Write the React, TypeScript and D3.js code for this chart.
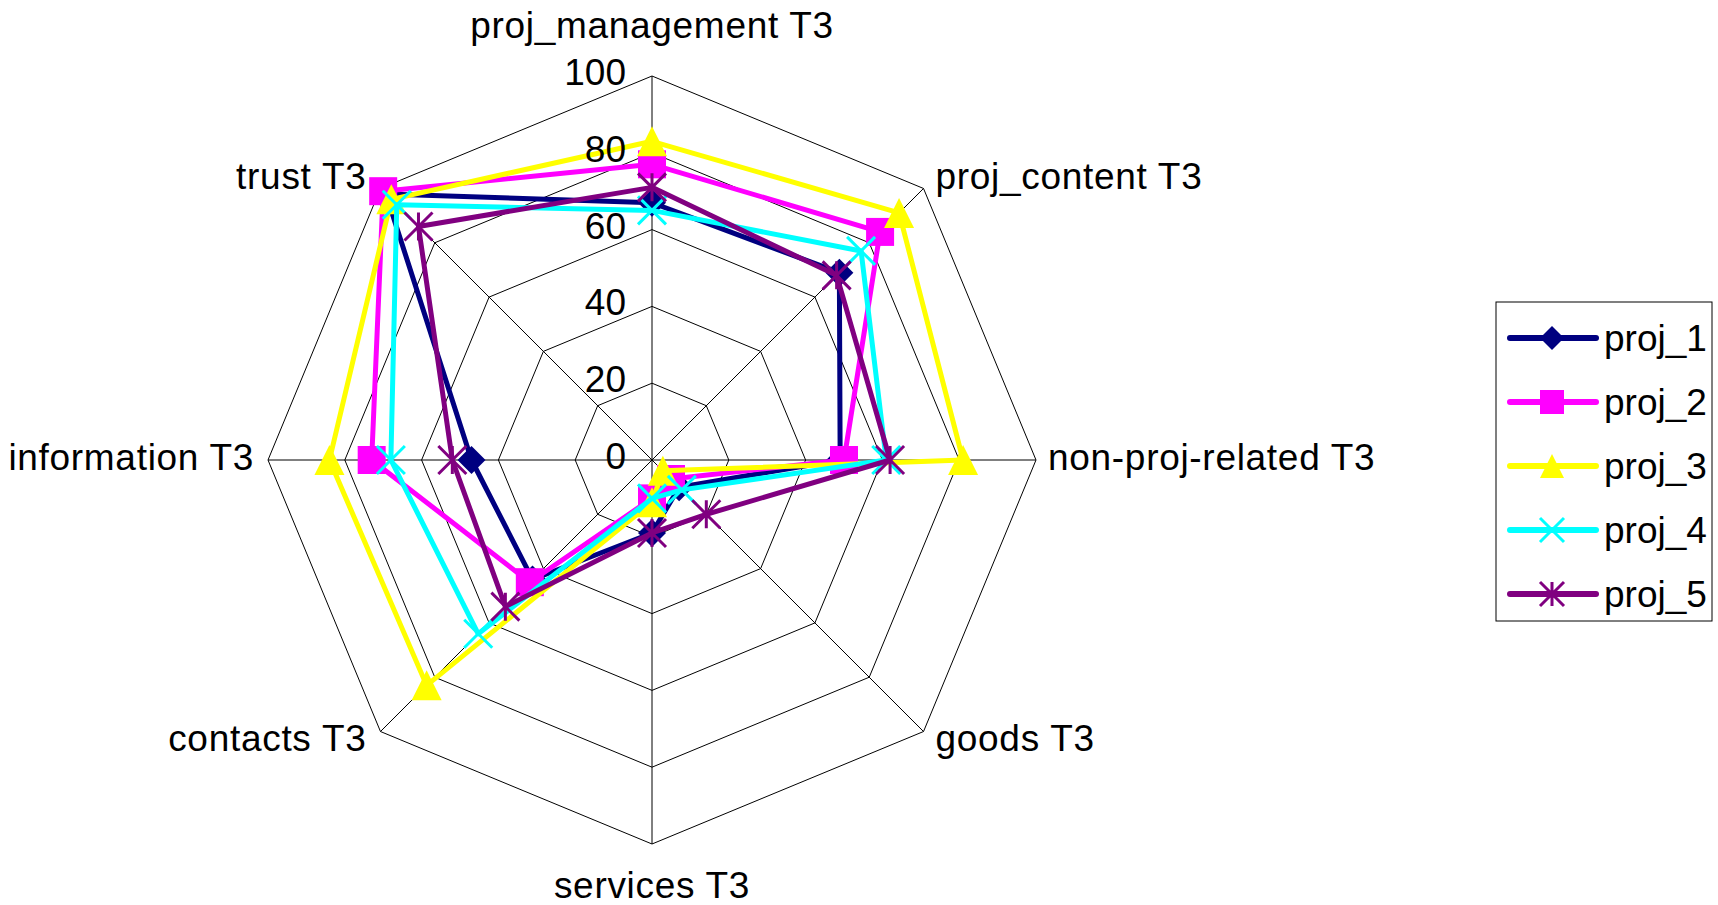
import React, { useEffect, useRef } from 'react';
import * as d3 from 'd3';

// axes clockwise from the top
const axes = [
  'proj_management T3',
  'proj_content T3',
  'non-proj-related T3',
  'goods T3',
  'services T3',
  'contacts T3',
  'information T3',
  'trust T3',
];

const proj1 = [67, 69, 49, 10, 19, 44, 47, 98];
const proj2 = [77, 84, 50, 7, 10, 45, 73, 99];
const proj3 = [83, 91, 81, 4, 11, 83, 84, 96];
const proj4 = [65, 77, 61, 11, 10, 64, 68, 94];
const proj5 = [71, 68, 62, 20, 19, 54, 52, 86];

const seriesNames = ['proj_1', 'proj_2', 'proj_3', 'proj_4', 'proj_5'];
const seriesColors = ['#000080', '#FF00FF', '#FFFF00', '#00FFFF', '#800080'];
const seriesMarkers = ['diamond', 'square', 'triangle', 'cross', 'asterisk'];

const ticks = [0, 20, 40, 60, 80, 100];

const FONT = '"Liberation Sans", Arial, sans-serif';

function markerPath(type: string, s: number): string {
  const h = s / 2;
  switch (type) {
    case 'diamond':
      return `M0,${-h}L${h},0L0,${h}L${-h},0Z`;
    case 'square':
      return `M${-h},${-h}H${h}V${h}H${-h}Z`;
    case 'triangle':
      return `M0,${-h}L${h},${h}H${-h}Z`;
    case 'cross':
      return `M${-h},${-h}L${h},${h}M${h},${-h}L${-h},${h}`;
    default:
      return `M${-h},${-h}L${h},${h}M${h},${-h}L${-h},${h}M0,${-h}V${h}`;
  }
}

const App = () => {
  const svgRef = useRef<SVGSVGElement | null>(null);

  useEffect(() => {
    const width = 1718;
    const height = 905;
    const cx = 652;
    const cy = 460;
    const radius = 384;

    const svg = d3.select(svgRef.current)
      .attr('width', width)
      .attr('height', height)
      .style('font-family', FONT);
    svg.selectAll('*').remove();

    svg.append('rect').attr('width', width).attr('height', height).attr('fill', '#fff');

    const r = d3.scaleLinear().domain([0, 100]).range([0, radius]);
    const angle = d3.scalePoint<number>()
      .domain(d3.range(axes.length + 1))
      .range([0, 2 * Math.PI]);

    const pt = (i: number, v: number): [number, number] => {
      const a = angle(i % axes.length)!;
      return [cx + r(v) * Math.sin(a), cy - r(v) * Math.cos(a)];
    };

    const g = svg.append('g');

    // grid rings
    ticks.slice(1).forEach(t => {
      g.append('path')
        .attr('d', d3.line()(axes.map((_, i) => pt(i, t))) + 'Z')
        .attr('fill', 'none')
        .attr('stroke', '#000')
        .attr('stroke-width', 1);
    });
    // spokes
    axes.forEach((_, i) => {
      const [x, y] = pt(i, 100);
      g.append('line')
        .attr('x1', cx).attr('y1', cy)
        .attr('x2', x).attr('y2', y)
        .attr('stroke', '#000')
        .attr('stroke-width', 1);
    });

    // axis labels
    axes.forEach((name, i) => {
      const a = angle(i)!;
      const [x, y] = pt(i, 100);
      const s = Math.sin(a);
      const c = Math.cos(a);
      let tx = x;
      let ty = y;
      let anchor = 'middle';
      if (Math.abs(s) < 0.01) {
        ty = c > 0 ? y - 38 : y + 54;
      } else {
        anchor = s > 0 ? 'start' : 'end';
        tx = x + (s > 0 ? 12 : -14);
        ty = y + 10 - c * 13;
      }
      g.append('text')
        .attr('x', tx)
        .attr('y', ty)
        .attr('text-anchor', anchor)
        .attr('font-size', 37)
        .attr('letter-spacing', 0.7)
        .attr('fill', '#000')
        .text(name);
    });

    const allSeries = [proj1, proj2, proj3, proj4, proj5];

    allSeries.forEach((vals, si) => {
      const color = seriesColors[si];
      const pts = vals.map((v, i) => pt(i, v));
      pts.push(pts[0]);
      g.append('path')
        .attr('d', d3.line()(pts))
        .attr('fill', 'none')
        .attr('stroke', color)
        .attr('stroke-width', 5)
        .attr('stroke-linejoin', 'round');

      const type = seriesMarkers[si];
      const open = type === 'cross' || type === 'asterisk';
      g.append('g')
        .selectAll('path')
        .data(vals)
        .join('path')
        .attr('transform', (v, i) => `translate(${pt(i, v)[0]},${pt(i, v)[1]})`)
        .attr('d', markerPath(type, type === 'triangle' ? 30 : 28))
        .attr('fill', open ? 'none' : color)
        .attr('stroke', open ? color : 'none')
        .attr('stroke-width', open ? 3 : 0);
    });

    // tick labels on the vertical axis
    ticks.forEach(t => {
      g.append('text')
        .attr('x', cx - 26)
        .attr('y', cy - r(t) + 9)
        .attr('text-anchor', 'end')
        .attr('font-size', 37)
        .attr('fill', '#000')
        .text(t);
    });

    // legend
    const lg = svg.append('g').attr('transform', 'translate(1496,302)');
    lg.append('rect')
      .attr('width', 216)
      .attr('height', 319)
      .attr('fill', '#fff')
      .attr('stroke', '#000')
      .attr('stroke-width', 1);
    seriesNames.forEach((name, si) => {
      const y = 36 + si * 64;
      const color = seriesColors[si];
      const type = seriesMarkers[si];
      const open = type === 'cross' || type === 'asterisk';
      lg.append('line')
        .attr('x1', 14).attr('x2', 100)
        .attr('y1', y).attr('y2', y)
        .attr('stroke', color)
        .attr('stroke-width', 6)
        .attr('stroke-linecap', 'round');
      lg.append('path')
        .attr('transform', `translate(56,${y})`)
        .attr('d', markerPath(type, 24))
        .attr('fill', open ? 'none' : color)
        .attr('stroke', open ? color : 'none')
        .attr('stroke-width', open ? 3 : 0);
      lg.append('text')
        .attr('x', 108)
        .attr('y', y + 13)
        .attr('font-size', 37)
        .attr('fill', '#000')
        .text(name);
    });
  }, []);

  return (
    <div style={{ position: 'absolute', left: 0, top: 0 }}>
      <svg ref={svgRef} style={{ display: 'block' }}></svg>
    </div>
  );
};

export default App;
